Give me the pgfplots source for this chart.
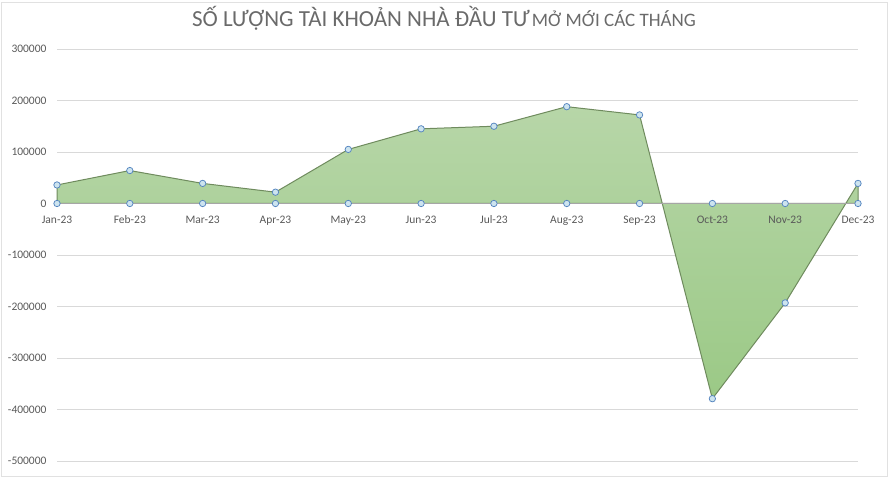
\documentclass[border=0pt]{standalone}
\usepackage{pgfplots}
\pgfplotsset{compat=1.18}
\usepackage{fontspec}
\setmainfont{Carlito}
\definecolor{txt}{HTML}{595959}
\definecolor{ttl}{HTML}{6A6A6A}
\definecolor{gridc}{HTML}{D9D9D9}
\definecolor{zeroc}{HTML}{A6A6A6}
\definecolor{outl}{HTML}{6F8B5E}
\definecolor{ftop}{HTML}{B7D6A8}
\definecolor{fbot}{HTML}{9BC986}
\definecolor{mkfill}{HTML}{CDE4EF}
\definecolor{mkdraw}{HTML}{5585C0}
\pgfplotsset{
  common/.style={
    at={(57bp,17bp)}, anchor=south west,
    scale only axis, width=801bp, height=412bp,
    xmin=0, xmax=11, ymin=-500000, ymax=300000,
    axis line style={draw=none},
    major tick length=0pt,
    tick label style={text=txt, font=\fontsize{11.5bp}{13bp}\selectfont},
    /pgf/number format/assume math mode=true,
    clip=false,
  }
}
\begin{document}
\begin{tikzpicture}[x=1bp,y=1bp]
\path (0,0) rectangle (888,478);
\draw[gridc!80, line width=0.8bp] (1.5,1.5) rectangle (887.5,475.5);
\node[anchor=base, text=ttl, inner sep=0] at (444,451)
  {{\fontsize{23bp}{26bp}\selectfont SỐ LƯỢNG TÀI KHOẢN NHÀ ĐẦU TƯ} {\fontsize{19bp}{22bp}\selectfont MỞ MỚI CÁC THÁNG}};
\begin{axis}[
  common,
  xtick=\empty,
  ytick={-500000,-400000,...,300000},
  ymajorgrids, grid style={gridc, line width=0.8bp},
  scaled y ticks=false,
  yticklabel={\pgfmathprintnumber[fixed, precision=0, 1000 sep={}]{\tick}},
  yticklabel style={xshift=-7bp},
]
\addplot[draw=outl, line width=1bp, top color=ftop, bottom color=fbot] coordinates {
 (0,36000) (1,64000) (2,39000) (3,22000) (4,105000) (5,145000)
 (6,150000) (7,188000) (8,172000) (9,-379000) (10,-193000) (11,39000)
} \closedcycle;
\addplot[draw=zeroc, line width=1.3bp] coordinates {(0,0) (11,0)};
\addplot[only marks, mark=*, mark size=3.2bp, mark options={draw=mkdraw, fill=mkfill, line width=0.75bp}] coordinates {
 (0,36000) (1,64000) (2,39000) (3,22000) (4,105000) (5,145000)
 (6,150000) (7,188000) (8,172000) (9,-379000) (10,-193000) (11,39000)
};
\addplot[only marks, mark=*, mark size=3.2bp, mark options={draw=mkdraw, fill=mkfill, line width=0.75bp}] coordinates {
 (0,0) (1,0) (2,0) (3,0) (4,0) (5,0) (6,0) (7,0) (8,0) (9,0) (10,0) (11,0)
};
\end{axis}
\begin{axis}[
  common,
  ytick=\empty,
  xtick={0,...,11},
  xticklabels={Jan-23,Feb-23,Mar-23,Apr-23,May-23,Jun-23,Jul-23,Aug-23,Sep-23,Oct-23,Nov-23,Dec-23},
  xticklabel style={anchor=base, yshift=237.5bp},
]
\end{axis}
\end{tikzpicture}
\end{document}
